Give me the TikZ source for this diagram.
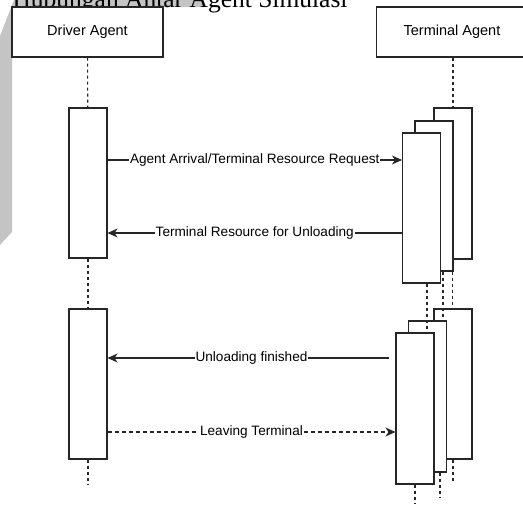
\documentclass[tikz,border=0pt]{standalone}
\usepackage{fontspec}
\setmainfont{Liberation Sans}
\newfontfamily\captionfont{Liberation Serif}
\usetikzlibrary{arrows.meta, positioning}

\begin{document}
\begin{tikzpicture}[x=1pt, y=-1pt, line width=1.1pt,
			>={Stealth[length=10pt,width=9pt,inset=3pt]},   %Pfeilspitzen
			agent/.style={draw=black!85, fill=white, minimum width=151pt, minimum height=50pt, inner sep=0pt, font=\fontsize{14.5}{17}\selectfont},
			act/.style={draw=black!85, fill=white, minimum width=38pt, minimum height=150pt, inner sep=0pt},
			life/.style={draw=black!85, dash pattern=on 3pt off 3pt},
			msg/.style={draw=black!85, ->},
			msglabel/.style={fill=white, inner sep=1pt, font=\fontsize{13.6}{16}\selectfont}]
			\useasboundingbox (0,0) rectangle (523,506);
			%Hintergrund und Titel
			\fill[black!23] (0,36) -- (14,0) -- (203,0) -- (203,7) -- (12,7) -- (12,232) -- (0,245) -- cycle;
			\node[anchor=base west, inner sep=0pt, font=\captionfont\fontsize{25.5}{30}\selectfont] (titel) at (12,7) {Hubungan Antar Agent Simulasi};
			%Agenten
			\node[agent] (drv) at (87.5,32) {Driver Agent};
			\node[agent] (term) at (452,32) {Terminal Agent};
			%Aktivierungen Driver
			\node[act] (d1) at (88,183) {};
			\node[act] (d2) at (88,384) {};
			%Aktivierungen Terminal
			\node[act, minimum height=151pt] (t1a) at (453,183.5) {};
			\node[act] (t1b) at (434,196) {};
			\node[act] (t1c) at (421.5,208) {};
			\node[act] (t2a) at (453,384) {};
			\node[act, minimum height=151pt] (t2b) at (427.5,396.5) {};
			\node[act, minimum height=151pt] (t2c) at (415,408.5) {};
			%Lebenslinien
			\coordinate (la) at (427,0);
			\coordinate (lb) at (443,0);
			\coordinate (lc) at (452.5,0);
			\coordinate (e0) at (88,485);
			\coordinate (e1) at (415,503);
			\coordinate (e2) at (440,497);
			\coordinate (e3) at (453,483);
			\draw[life] (drv) -- (d1);
			\draw[life] (d1) -- (d2);
			\draw[life] (d2) -- (e0);
			\draw[life] (term.south -| t1a) -- (t1a);
			\draw[life] (t1c.south -| la) -- (t2c.north -| la);
			\draw[life] (t1b.south -| lb) -- (t2b.north -| lb);
			\draw[life] (t1a.south -| lc) -- (t2a.north -| lc);
			\draw[life] (t2c) -- (e1);
			\draw[life] (t2b.south -| e2) -- (e2);
			\draw[life] (t2a) -- (e3);
			%Nachrichten
			\coordinate (y1) at (0,160);
			\coordinate (y2) at (0,233);
			\coordinate (y3) at (0,358);
			\coordinate (y4) at (0,432);
			\draw[msg] (d1.east |- y1) -- node[msglabel] {Agent Arrival/Terminal Resource Request} (t1c.west |- y1);
			\draw[msg] (t1c.west |- y2) -- node[msglabel] {Terminal Resource for Unloading} (d1.east |- y2);
			\draw[msg, shorten <=6pt] (t2c.west |- y3) -- node[msglabel] {Unloading finished} (d2.east |- y3);
			\draw[msg, dash pattern=on 4pt off 3pt] (d2.east |- y4) -- node[msglabel] {Leaving Terminal} (t2c.west |- y4);
		\end{tikzpicture}
\end{document}
